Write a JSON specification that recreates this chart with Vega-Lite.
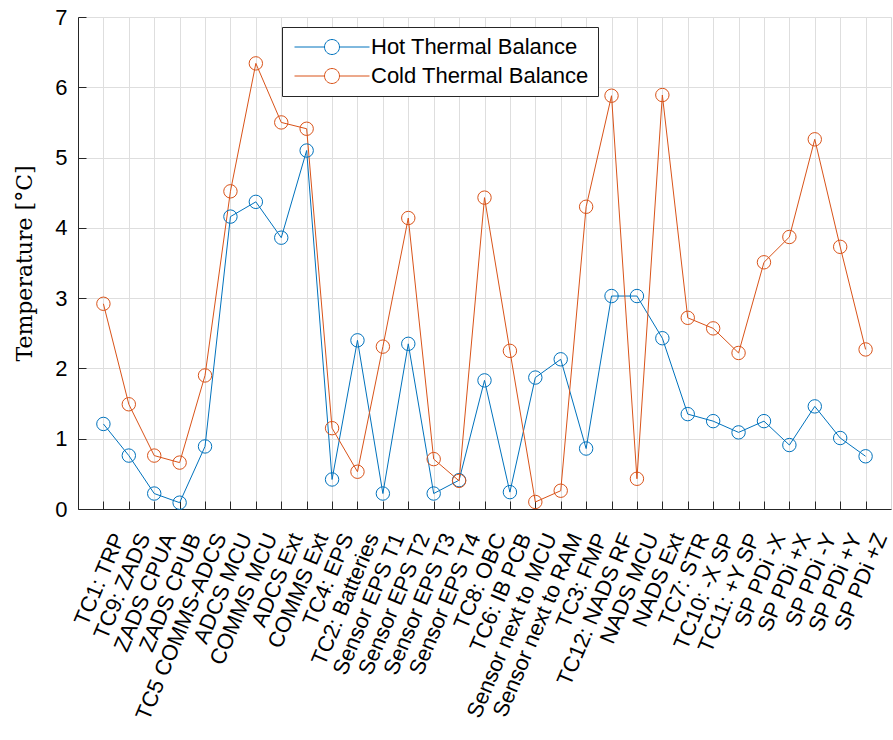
{
  "$schema": "https://vega.github.io/schema/vega-lite/v6.json",
  "autosize": {"type": "none"},
  "padding": {"left": 78, "top": 17, "right": 2, "bottom": 231},
  "width": 813,
  "height": 492,
  "background": "white",
  "config": {
    "view": {"stroke": "#d9d9d9", "strokeWidth": 1},
    "axis": {
      "labelFont": "Liberation Sans",
      "labelFontSize": 22,
      "labelColor": "#000000",
      "labelLimit": 0,
      "domainColor": "#262626",
      "domainWidth": 1,
      "tickColor": "#262626",
      "tickWidth": 1,
      "gridColor": "#dedede",
      "gridWidth": 1
    }
  },
  "data": {
    "values": [
      {"sensor": "TC1: TRP", "series": "Hot Thermal Balance", "temp": 1.21},
      {"sensor": "TC9: ZADS", "series": "Hot Thermal Balance", "temp": 0.76},
      {"sensor": "ZADS CPUA", "series": "Hot Thermal Balance", "temp": 0.22},
      {"sensor": "ZADS CPUB", "series": "Hot Thermal Balance", "temp": 0.09},
      {"sensor": "TC5 COMMS-ADCS", "series": "Hot Thermal Balance", "temp": 0.89},
      {"sensor": "ADCS MCU", "series": "Hot Thermal Balance", "temp": 4.16},
      {"sensor": "COMMS MCU", "series": "Hot Thermal Balance", "temp": 4.37},
      {"sensor": "ADCS Ext", "series": "Hot Thermal Balance", "temp": 3.86},
      {"sensor": "COMMS Ext", "series": "Hot Thermal Balance", "temp": 5.10},
      {"sensor": "TC4: EPS", "series": "Hot Thermal Balance", "temp": 0.42},
      {"sensor": "TC2: Batteries", "series": "Hot Thermal Balance", "temp": 2.40},
      {"sensor": "Sensor EPS T1", "series": "Hot Thermal Balance", "temp": 0.22},
      {"sensor": "Sensor EPS T2", "series": "Hot Thermal Balance", "temp": 2.35},
      {"sensor": "Sensor EPS T3", "series": "Hot Thermal Balance", "temp": 0.22},
      {"sensor": "Sensor EPS T4", "series": "Hot Thermal Balance", "temp": 0.41},
      {"sensor": "TC8: OBC", "series": "Hot Thermal Balance", "temp": 1.83},
      {"sensor": "TC6: IB PCB", "series": "Hot Thermal Balance", "temp": 0.24},
      {"sensor": "Sensor next to MCU", "series": "Hot Thermal Balance", "temp": 1.87},
      {"sensor": "Sensor next to RAM", "series": "Hot Thermal Balance", "temp": 2.13},
      {"sensor": "TC3: FMP", "series": "Hot Thermal Balance", "temp": 0.86},
      {"sensor": "TC12: NADS RF", "series": "Hot Thermal Balance", "temp": 3.03},
      {"sensor": "NADS MCU", "series": "Hot Thermal Balance", "temp": 3.03},
      {"sensor": "NADS Ext", "series": "Hot Thermal Balance", "temp": 2.43},
      {"sensor": "TC7: STR", "series": "Hot Thermal Balance", "temp": 1.35},
      {"sensor": "TC10: -X SP", "series": "Hot Thermal Balance", "temp": 1.25},
      {"sensor": "TC11: +Y SP", "series": "Hot Thermal Balance", "temp": 1.09},
      {"sensor": "SP PDi -X", "series": "Hot Thermal Balance", "temp": 1.25},
      {"sensor": "SP PDi +X", "series": "Hot Thermal Balance", "temp": 0.91},
      {"sensor": "SP PDi -Y", "series": "Hot Thermal Balance", "temp": 1.46},
      {"sensor": "SP PDi +Y", "series": "Hot Thermal Balance", "temp": 1.01},
      {"sensor": "SP PDi +Z", "series": "Hot Thermal Balance", "temp": 0.75},
      {"sensor": "TC1: TRP", "series": "Cold Thermal Balance", "temp": 2.92},
      {"sensor": "TC9: ZADS", "series": "Cold Thermal Balance", "temp": 1.49},
      {"sensor": "ZADS CPUA", "series": "Cold Thermal Balance", "temp": 0.76},
      {"sensor": "ZADS CPUB", "series": "Cold Thermal Balance", "temp": 0.66},
      {"sensor": "TC5 COMMS-ADCS", "series": "Cold Thermal Balance", "temp": 1.90},
      {"sensor": "ADCS MCU", "series": "Cold Thermal Balance", "temp": 4.52},
      {"sensor": "COMMS MCU", "series": "Cold Thermal Balance", "temp": 6.34},
      {"sensor": "ADCS Ext", "series": "Cold Thermal Balance", "temp": 5.50},
      {"sensor": "COMMS Ext", "series": "Cold Thermal Balance", "temp": 5.41},
      {"sensor": "TC4: EPS", "series": "Cold Thermal Balance", "temp": 1.15},
      {"sensor": "TC2: Batteries", "series": "Cold Thermal Balance", "temp": 0.53},
      {"sensor": "Sensor EPS T1", "series": "Cold Thermal Balance", "temp": 2.31},
      {"sensor": "Sensor EPS T2", "series": "Cold Thermal Balance", "temp": 4.14},
      {"sensor": "Sensor EPS T3", "series": "Cold Thermal Balance", "temp": 0.71},
      {"sensor": "Sensor EPS T4", "series": "Cold Thermal Balance", "temp": 0.40},
      {"sensor": "TC8: OBC", "series": "Cold Thermal Balance", "temp": 4.43},
      {"sensor": "TC6: IB PCB", "series": "Cold Thermal Balance", "temp": 2.25},
      {"sensor": "Sensor next to MCU", "series": "Cold Thermal Balance", "temp": 0.10},
      {"sensor": "Sensor next to RAM", "series": "Cold Thermal Balance", "temp": 0.26},
      {"sensor": "TC3: FMP", "series": "Cold Thermal Balance", "temp": 4.30},
      {"sensor": "TC12: NADS RF", "series": "Cold Thermal Balance", "temp": 5.88},
      {"sensor": "NADS MCU", "series": "Cold Thermal Balance", "temp": 0.43},
      {"sensor": "NADS Ext", "series": "Cold Thermal Balance", "temp": 5.89},
      {"sensor": "TC7: STR", "series": "Cold Thermal Balance", "temp": 2.72},
      {"sensor": "TC10: -X SP", "series": "Cold Thermal Balance", "temp": 2.57},
      {"sensor": "TC11: +Y SP", "series": "Cold Thermal Balance", "temp": 2.22},
      {"sensor": "SP PDi -X", "series": "Cold Thermal Balance", "temp": 3.51},
      {"sensor": "SP PDi +X", "series": "Cold Thermal Balance", "temp": 3.87},
      {"sensor": "SP PDi -Y", "series": "Cold Thermal Balance", "temp": 5.26},
      {"sensor": "SP PDi +Y", "series": "Cold Thermal Balance", "temp": 3.73},
      {"sensor": "SP PDi +Z", "series": "Cold Thermal Balance", "temp": 2.27}
    ]
  },
  "encoding": {
    "x": {
      "field": "sensor",
      "type": "nominal",
      "sort": null,
      "scale": {"type": "point", "padding": 1},
      "axis": {
        "title": null,
        "labelAngle": -67,
        "labelAlign": "right",
        "labelBaseline": "middle",
        "tickSize": -8,
        "labelPadding": 33,
        "labelOffset": 15,
        "grid": true
      }
    },
    "y": {
      "field": "temp",
      "type": "quantitative",
      "scale": {"domain": [0, 7], "nice": false},
      "axis": {
        "title": "Temperature [°C]",
        "titleFont": "DejaVu Serif",
        "titleFontSize": 22,
        "titleFontWeight": "normal",
        "titleColor": "#000000",
        "titlePadding": 18,
        "values": [0, 1, 2, 3, 4, 5, 6, 7],
        "tickSize": -8,
        "labelPadding": 19,
        "grid": true
      }
    },
    "color": {
      "field": "series",
      "type": "nominal",
      "sort": ["Hot Thermal Balance", "Cold Thermal Balance"],
      "scale": {"domain": ["Hot Thermal Balance", "Cold Thermal Balance"], "range": ["#0072BD", "#D95319"]},
      "legend": {
        "title": null,
        "orient": "none",
        "legendX": 204,
        "legendY": 10,
        "labelFont": "Liberation Sans",
        "labelFontSize": 22,
        "labelColor": "#000000",
        "labelLimit": 0,
        "symbolType": "M-1,0H3M5,0H9M5,0A1,1 0 1,1 3,0A1,1 0 1,1 5,0",
        "symbolSize": 225,
        "symbolStrokeWidth": 1,
        "symbolFillColor": "transparent",
        "labelOffset": 58,
        "rowPadding": 7,
        "padding": 9,
        "strokeColor": "#262626",
        "fillColor": "white"
      }
    }
  },
  "layer": [
    {"mark": {"type": "line", "strokeWidth": 1}},
    {"mark": {"type": "point", "shape": "circle", "filled": false, "size": 180, "strokeWidth": 1, "opacity": 1}}
  ]
}
